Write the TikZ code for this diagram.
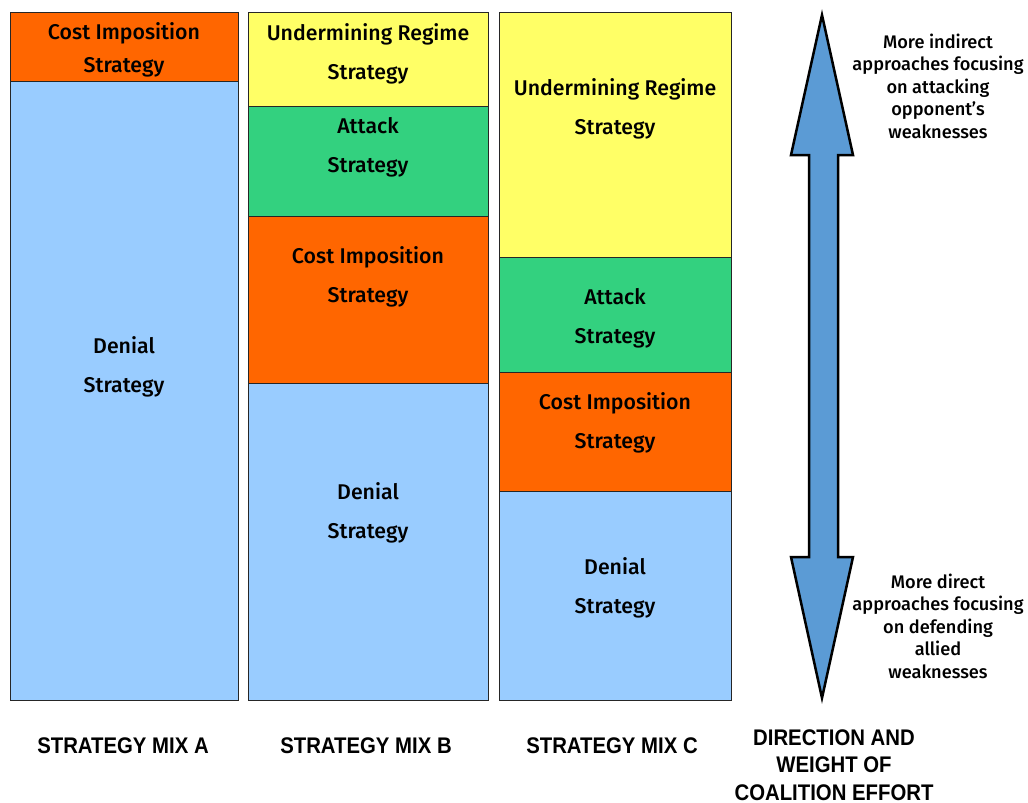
\documentclass[tikz,border=0pt]{standalone}
\usepackage{fontspec}
\setmainfont{Fira Sans}[UprightFont=* Medium]
\newfontfamily\narrowfont[FakeStretch=0.9]{Liberation Sans Bold}
\definecolor{cOrange}{HTML}{FF6600}
\definecolor{cYellow}{HTML}{FFFF66}
\definecolor{cGreen}{HTML}{33D17F}
\definecolor{cBlue}{HTML}{99CCFF}
\definecolor{cArrow}{HTML}{5B9BD5}
\begin{document}
\begin{tikzpicture}[x=1pt,y=-1pt,
  box/.style={draw=black!85, line width=0.9pt, anchor=north west, inner sep=0pt},
  boxtext/.style={align=center, font=\fontsize{21.3}{39}\selectfont, inner sep=0pt},
  sidetext/.style={align=center, font=\fontsize{18.2}{22.5}\selectfont, inner sep=0pt},
  mixlabel/.style={align=center, font=\narrowfont\fontsize{22.6}{27.5}\selectfont, inner sep=0pt}]
\useasboundingbox (0,0) rectangle (1028,803);
% Column A
\node[box, fill=cOrange, minimum width=228, minimum height=69] (a1) at (10,12) {};
\node[box, fill=cBlue, minimum width=228, minimum height=619] (a2) at (10,81) {};
\node[boxtext, font=\fontsize{21.3}{33}\selectfont] (ta1) at (124,49.5) {Cost Imposition\\Strategy};
\node[boxtext] (ta2) at (124,367) {Denial\\Strategy};
% Column B
\node[box, fill=cYellow, minimum width=240, minimum height=94] (b1) at (248,12) {};
\node[box, fill=cGreen, minimum width=240, minimum height=110] (b2) at (248,106) {};
\node[box, fill=cOrange, minimum width=240, minimum height=167] (b3) at (248,216) {};
\node[box, fill=cBlue, minimum width=240, minimum height=317] (b4) at (248,383) {};
\node[boxtext] (tb1) at (368,53.5) {Undermining Regime\\Strategy};
\node[boxtext] (tb2) at (368,147.5) {Attack\\Strategy};
\node[boxtext] (tb3) at (368,276.5) {Cost Imposition\\Strategy};
\node[boxtext] (tb4) at (368,512.5) {Denial\\Strategy};
% Column C
\node[box, fill=cYellow, minimum width=232, minimum height=245] (c1) at (499,12) {};
\node[box, fill=cGreen, minimum width=232, minimum height=115] (c2) at (499,257) {};
\node[box, fill=cOrange, minimum width=232, minimum height=119] (c3) at (499,372) {};
\node[box, fill=cBlue, minimum width=232, minimum height=209] (c4) at (499,491) {};
\node[boxtext] (tc1) at (615,108.5) {Undermining Regime\\Strategy};
\node[boxtext] (tc2) at (615,318.5) {Attack\\Strategy};
\node[boxtext] (tc3) at (615,422.5) {Cost Imposition\\Strategy};
\node[boxtext] (tc4) at (615,587.5) {Denial\\Strategy};
% Double arrow
\draw[fill=cArrow, line width=2.5pt, line join=miter]
  (822,15) -- (853,155) -- (838,155) -- (838,557) -- (853,557) -- (822,698)
  -- (791,557) -- (809,557) -- (809,155) -- (791,155) -- cycle;
\node[sidetext] (st1) at (938,86) {More indirect\\approaches focusing\\on attacking\\opponent's\\weaknesses};
\node[sidetext] (st2) at (938,626) {More direct\\approaches focusing\\on defending\\allied\\weaknesses};
% Bottom labels
\node[mixlabel] (la) at (123,746) {STRATEGY MIX A};
\node[mixlabel] (lb) at (366,746) {STRATEGY MIX B};
\node[mixlabel] (lc) at (612,746) {STRATEGY MIX C};
\node[mixlabel] (ld) at (834,765) {DIRECTION AND\\WEIGHT OF\\COALITION EFFORT};
\end{tikzpicture}
\end{document}
